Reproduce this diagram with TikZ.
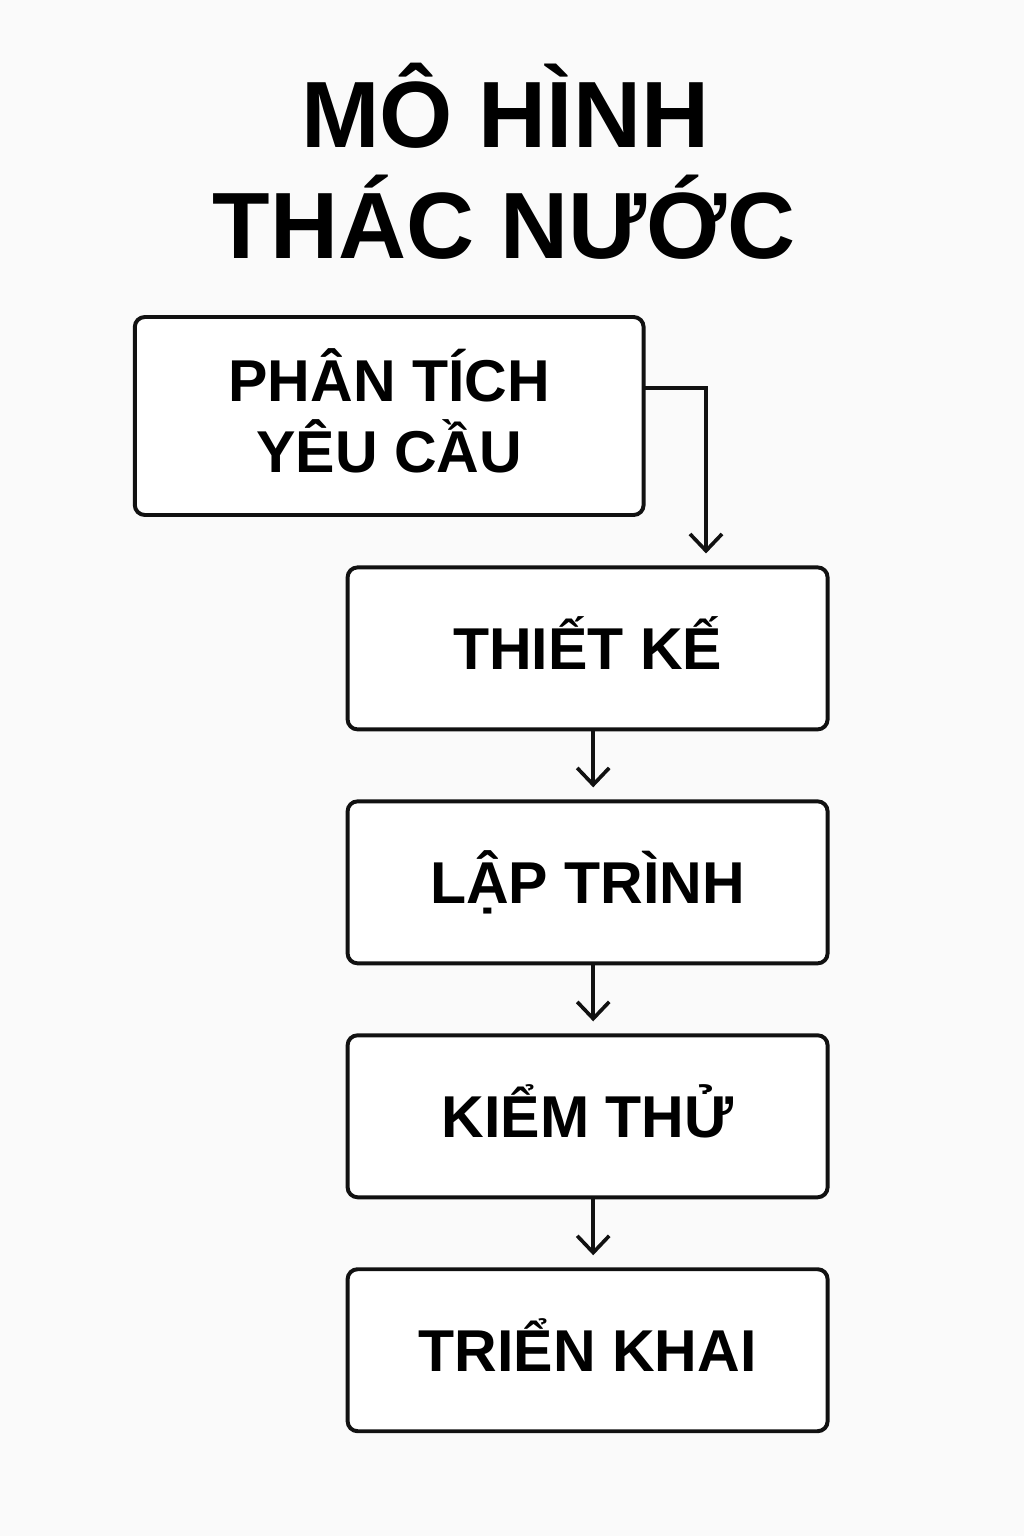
\documentclass[tikz,border=0pt]{standalone}
\usepackage{fontspec}
\setmainfont{Liberation Sans}
\usepackage{tikz}
\usetikzlibrary{arrows.meta,positioning}
\definecolor{ink}{HTML}{111111}
\definecolor{paper}{HTML}{FAFAFA}

\begin{document}
\begin{tikzpicture}[node distance=1.7cm,>={Straight Barb[length=4.2mm,width=8mm]},title/.style={font=\bfseries\fontsize{67}{78}\selectfont,anchor=base,inner sep=0pt},box/.style={draw=ink,line width=2.8pt,rounded corners=2.5mm,fill=white,align=center,minimum width=12cm,minimum height=4.05cm,font=\bfseries\fontsize{42}{51}\selectfont,text height=30pt,text depth=0pt},arr/.style={->,line width=2.6pt,ink,shorten >=3mm,line cap=round}]
\fill[paper] (0,0) rectangle (25.6,-38.4);
\node[title] (title1) at (12.63,-3.7) {MÔ HÌNH};
\node[title] (title2) at (12.6,-6.45) {THÁC NƯỚC};
\node[box,minimum width=12.72cm,minimum height=4.95cm,text height=81pt] (req) at (9.73,-10.4) {PHÂN TÍCH\\YÊU CẦU};
\node[box] (design) at (14.69,-16.21) {THIẾT KẾ};
\node[box,below=of design] (code) {LẬP TRÌNH};
\node[box,below=of code] (test) {KIỂM THỬ};
\node[box,below=of test] (deploy) {TRIỂN KHAI};
\draw[arr] ([yshift=7mm]req.east) -| ([xshift=29.6mm]design.north);
\draw[arr] ([xshift=1.4mm]design.south) -- ([xshift=1.4mm]code.north);
\draw[arr] ([xshift=1.4mm]code.south) -- ([xshift=1.4mm]test.north);
\draw[arr] ([xshift=1.4mm]test.south) -- ([xshift=1.4mm]deploy.north);
\end{tikzpicture}
\end{document}
